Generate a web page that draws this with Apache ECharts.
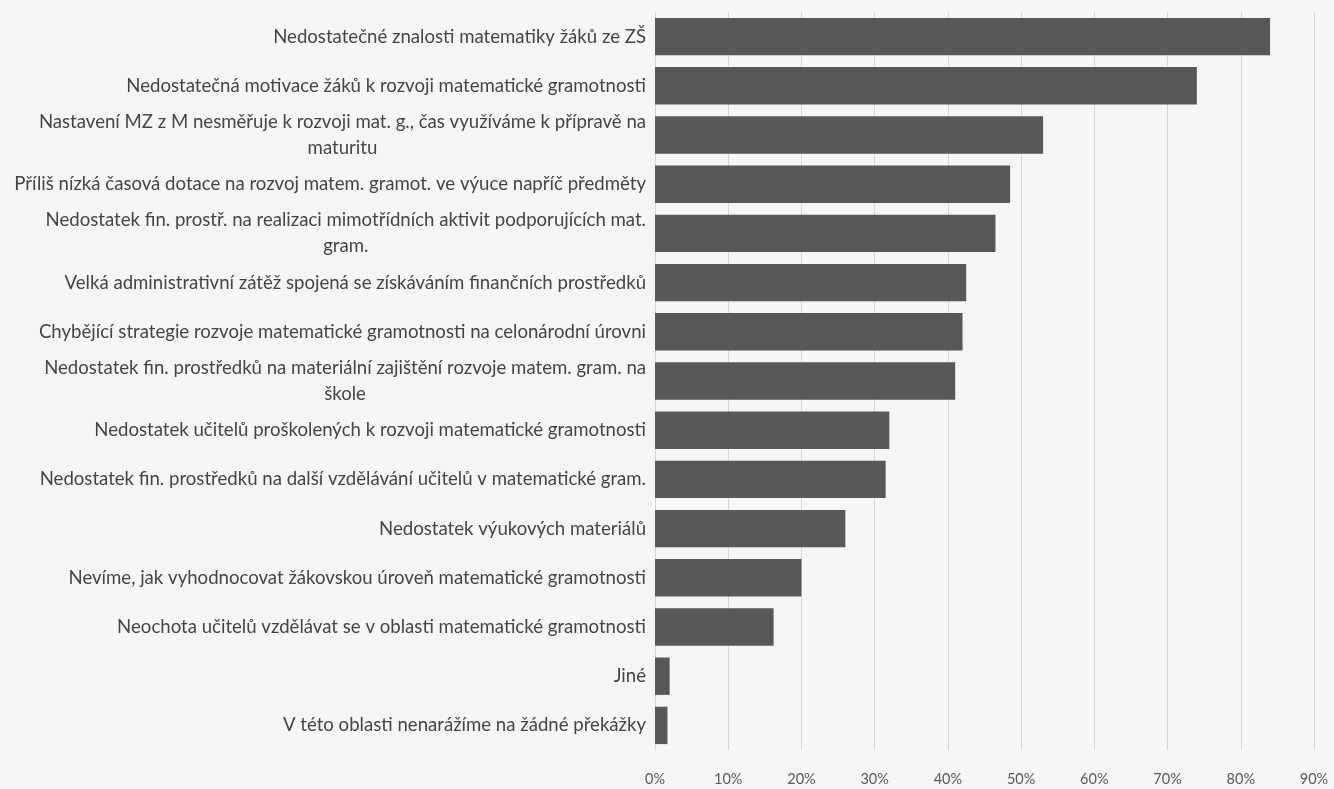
<!DOCTYPE html>
<html>
<head>
<meta charset="utf-8">
<script src="https://cdn.jsdelivr.net/npm/echarts@6/dist/echarts.min.js"></script>
<style>
  html, body { margin: 0; padding: 0; background: #f6f6f4; }
  #chart { width: 1334px; height: 789px; }
</style>
</head>
<body>
<div id="chart"></div>
<script>
// categories from top to bottom (wrapped lines as in the original)
const categories = [
    'Nedostatečné znalosti matematiky žáků ze ZŠ',
    'Nedostatečná motivace žáků k rozvoji matematické gramotnosti',
    'Nastavení MZ z M nesměřuje k rozvoji mat. g., čas využíváme k přípravě na\nmaturitu',
    'Příliš nízká časová dotace na rozvoj matem. gramot. ve výuce napříč předměty',
    'Nedostatek fin. prostř. na realizaci mimotřídních aktivit podporujících mat.\ngram.',
    'Velká administrativní zátěž spojená se získáváním finančních prostředků',
    'Chybějící strategie rozvoje matematické gramotnosti na celonárodní úrovni',
    'Nedostatek fin. prostředků na materiální zajištění rozvoje matem. gram. na\nškole',
    'Nedostatek učitelů proškolených k rozvoji matematické gramotnosti',
    'Nedostatek fin. prostředků na další vzdělávání učitelů v matematické gram.',
    'Nedostatek výukových materiálů',
    'Nevíme, jak vyhodnocovat žákovskou úroveň matematické gramotnosti',
    'Neochota učitelů vzdělávat se v oblasti matematické gramotnosti',
    'Jiné',
    'V této oblasti nenarážíme na žádné překážky'
];

// share of schools, percent
const values = [84, 74, 53, 48.5, 46.5, 42.5, 42, 41, 32, 31.5, 26, 20, 16.2, 2, 1.7];

const chart = echarts.init(document.getElementById('chart'));

const option = {
    backgroundColor: '#f6f6f4',
    animation: false,
    grid: {
        left: 655,
        right: 20,
        top: 12,
        bottom: 39,
        containLabel: false
    },
    xAxis: {
        type: 'value',
        min: 0,
        max: 90,
        interval: 10,
        axisLine: { show: false },
        axisTick: { show: false },
        axisLabel: {
            formatter: '{value}%',
            color: '#5a5a5a',
            fontFamily: 'Lato',
            fontSize: 14.5,
            margin: 22
        },
        splitLine: {
            show: true,
            lineStyle: { color: '#d6d6d6', width: 1 }
        }
    },
    yAxis: {
        type: 'category',
        data: categories,
        inverse: true,
        axisLine: { show: false },
        axisTick: { show: false },
        axisLabel: {
            interval: 0,
            margin: 9,
            color: '#454545',
            fontFamily: 'Lato',
            fontSize: 18.6,
            lineHeight: 26,
            align: 'right',
            formatter: function (txt) {
                const lines = txt.split('\n');
                return lines.map(function (l, i) {
                    return i === 0 ? l : '{c|' + l + '}';
                }).join('\n');
            },
            rich: {
                c: {
                    align: 'center',
                    color: '#454545',
                    fontFamily: 'Lato',
                    fontSize: 18.6,
                    lineHeight: 26
                }
            }
        }
    },
    series: [{
        type: 'bar',
        data: values,
        barCategoryGap: '24%',
        itemStyle: { color: '#585858' }
    }]
};

chart.setOption(option);
</script>
</body>
</html>
